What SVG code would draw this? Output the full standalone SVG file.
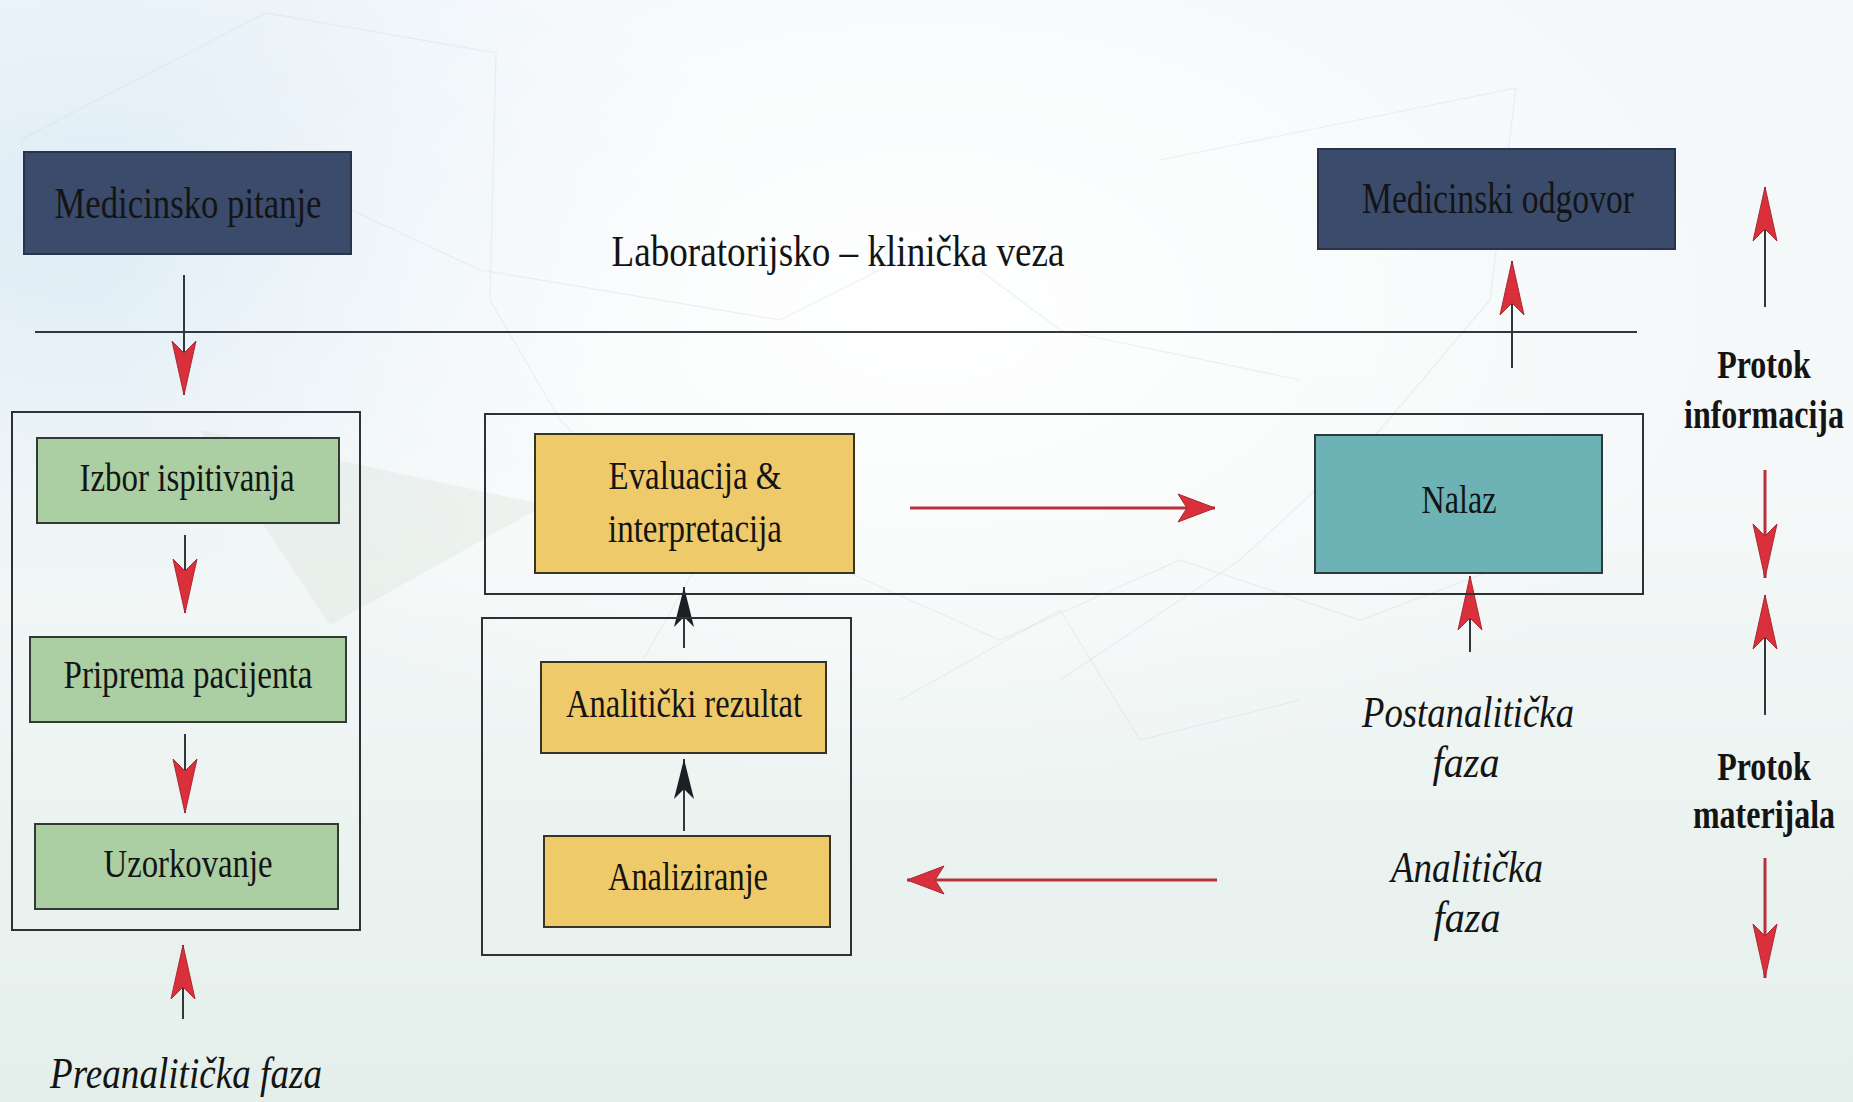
<svg xmlns="http://www.w3.org/2000/svg" width="1853" height="1102" viewBox="0 0 1853 1102">
  <defs>
    <linearGradient id="bg" x1="0" y1="0" x2="0" y2="1">
      <stop offset="0" stop-color="#f4f8fb"/>
      <stop offset="0.45" stop-color="#f4f8f8"/>
      <stop offset="1" stop-color="#e4efeb"/>
    </linearGradient>
    <radialGradient id="glow" cx="0.5" cy="0.28" r="0.45">
      <stop offset="0" stop-color="#ffffff" stop-opacity="1"/>
      <stop offset="1" stop-color="#ffffff" stop-opacity="0"/>
    </radialGradient>
    <radialGradient id="blue" cx="0.05" cy="0.2" r="0.35">
      <stop offset="0" stop-color="#dcebf6" stop-opacity="0.9"/>
      <stop offset="1" stop-color="#dcebf6" stop-opacity="0"/>
    </radialGradient>
    <marker id="redV" markerUnits="userSpaceOnUse" orient="auto" refX="0" refY="0" markerWidth="60" markerHeight="30" overflow="visible">
      <path d="M0,0 L-54,-12 L-42,0 L-54,12 Z" fill="#d9303b" stroke="#a82a33" stroke-width="1"/>
    </marker>
    <marker id="blkV" markerUnits="userSpaceOnUse" orient="auto" refX="0" refY="0" markerWidth="60" markerHeight="30" overflow="visible">
      <path d="M0,0 L-40,-10 L-30,0 L-40,10 Z" fill="#1c1f26"/>
    </marker>
    <marker id="redH" markerUnits="userSpaceOnUse" orient="auto" refX="0" refY="0" markerWidth="60" markerHeight="30" overflow="visible">
      <path d="M0,0 L-37,-14 L-28,0 L-37,14 Z" fill="#d9303b" stroke="#a82a33" stroke-width="1"/>
    </marker>
  </defs>
  <style>
    .t { font-family: "Liberation Serif", "Times New Roman", serif; fill: #141414; text-anchor: middle; }
    .n { font-size: 41px; }
    .big { font-size: 44px; }
    .it { font-style: italic; font-size: 45px; }
    .b { font-weight: bold; font-size: 40px; }
    .navy { fill: #3b4b6c; stroke: #2a3348; stroke-width: 2; }
    .green { fill: #abcfa3; stroke: #333a33; stroke-width: 2; }
    .yellow { fill: #efca6a; stroke: #3a3428; stroke-width: 2; }
    .teal { fill: #6db3b6; stroke: #2e3a3c; stroke-width: 2; }
    .frame { fill: none; stroke: #2e3236; stroke-width: 2; }
    .sh { stroke: #33363a; stroke-width: 2; fill: none; }
    .shr { stroke: #b8303c; stroke-width: 3; fill: none; }
    .bgl { stroke: #cdd8dc; stroke-width: 1.2; fill: none; opacity: 0.35; }
  </style>

  <g id="background">
    <rect x="0" y="0" width="1853" height="1102" fill="url(#bg)"/>
    <rect x="0" y="0" width="1853" height="1102" fill="url(#blue)"/>
    <rect x="0" y="0" width="1853" height="1102" fill="url(#glow)"/>
    <polygon points="200,430 545,505 330,625" fill="#c9d8c6" opacity="0.22"/>
    <polyline class="bgl" points="20,140 266,13 496,53 490,300 560,420 700,560 620,700"/>
    <polyline class="bgl" points="1160,160 1516,88 1490,300 1380,430 1240,560 1060,680"/>
    <polyline class="bgl" points="330,200 480,270 780,320 940,240 1060,330 1300,380"/>
    <polyline class="bgl" points="600,460 820,560 1000,640 1180,560 1360,620 1520,560"/>
    <polyline class="bgl" points="900,700 1060,610 1140,740 1300,700"/>
  </g>

  <g id="connectors">
    <line class="sh" x1="35" y1="332" x2="1637" y2="332" stroke-width="3"/>
    <line class="sh" x1="184" y1="275" x2="184" y2="395" marker-end="url(#redV)"/>
    <line class="sh" x1="185" y1="535" x2="185" y2="613" marker-end="url(#redV)"/>
    <line class="sh" x1="185" y1="734" x2="185" y2="813" marker-end="url(#redV)"/>
    <line class="sh" x1="183" y1="1019" x2="183" y2="945" marker-end="url(#redV)"/>
    <line class="shr" x1="910" y1="508" x2="1215" y2="508" marker-end="url(#redH)"/>
    <line class="shr" x1="1217" y1="880" x2="907" y2="880" marker-end="url(#redH)"/>
    <line class="sh" x1="684" y1="831" x2="684" y2="759" marker-end="url(#blkV)"/>
    <line class="sh" x1="684" y1="648" x2="684" y2="587" marker-end="url(#blkV)"/>
    <line class="sh" x1="1512" y1="368" x2="1512" y2="261" marker-end="url(#redV)"/>
    <line class="sh" x1="1470" y1="652" x2="1470" y2="576" marker-end="url(#redV)"/>
    <line class="sh" x1="1765" y1="307" x2="1765" y2="187" marker-end="url(#redV)"/>
    <line class="shr" x1="1765" y1="470" x2="1765" y2="578" stroke-width="2" marker-end="url(#redV)"/>
    <line class="sh" x1="1765" y1="715" x2="1765" y2="595" marker-end="url(#redV)"/>
    <line class="shr" x1="1765" y1="858" x2="1765" y2="978" stroke-width="2" marker-end="url(#redV)"/>
  </g>

  <g id="frame-preanalytic"><rect class="frame" x="12" y="412" width="348" height="518"/></g>
  <g id="frame-post"><rect class="frame" x="485" y="414" width="1158" height="180"/></g>
  <g id="frame-analytic"><rect class="frame" x="482" y="618" width="369" height="337"/></g>

  <g id="medicinsko-pitanje">
    <rect class="navy" x="24" y="152" width="327" height="102"/>
    <text class="t big" x="188" y="218" textLength="267" lengthAdjust="spacingAndGlyphs">Medicinsko pitanje</text>
  </g>
  <g id="lab-klin-veza">
    <text class="t big" x="838" y="266" textLength="453" lengthAdjust="spacingAndGlyphs">Laboratorijsko – klinička veza</text>
  </g>
  <g id="medicinski-odgovor">
    <rect class="navy" x="1318" y="149" width="357" height="100"/>
    <text class="t big" x="1498" y="213" textLength="272" lengthAdjust="spacingAndGlyphs">Medicinski odgovor</text>
  </g>
  <g id="izbor">
    <rect class="green" x="37" y="438" width="302" height="85"/>
    <text class="t n" x="187" y="491" textLength="215" lengthAdjust="spacingAndGlyphs">Izbor ispitivanja</text>
  </g>
  <g id="priprema">
    <rect class="green" x="30" y="637" width="316" height="85"/>
    <text class="t n" x="188" y="688" textLength="249" lengthAdjust="spacingAndGlyphs">Priprema pacijenta</text>
  </g>
  <g id="uzorkovanje">
    <rect class="green" x="35" y="824" width="303" height="85"/>
    <text class="t n" x="188" y="877" textLength="169" lengthAdjust="spacingAndGlyphs">Uzorkovanje</text>
  </g>
  <g id="preanaliticka">
    <text class="t it" x="186" y="1088" textLength="272" lengthAdjust="spacingAndGlyphs">Preanalitička faza</text>
  </g>
  <g id="evaluacija">
    <rect class="yellow" x="535" y="434" width="319" height="139"/>
    <text class="t n" x="695" y="489" textLength="173" lengthAdjust="spacingAndGlyphs">Evaluacija &amp;</text>
    <text class="t n" x="695" y="542" textLength="174" lengthAdjust="spacingAndGlyphs">interpretacija</text>
  </g>
  <g id="nalaz">
    <rect class="teal" x="1315" y="435" width="287" height="138"/>
    <text class="t n" x="1459" y="513" textLength="75" lengthAdjust="spacingAndGlyphs">Nalaz</text>
  </g>
  <g id="analiticki-rezultat">
    <rect class="yellow" x="541" y="662" width="285" height="91"/>
    <text class="t n" x="684" y="717" textLength="236" lengthAdjust="spacingAndGlyphs">Analitički rezultat</text>
  </g>
  <g id="analiziranje">
    <rect class="yellow" x="544" y="836" width="286" height="91"/>
    <text class="t n" x="688" y="890" textLength="160" lengthAdjust="spacingAndGlyphs">Analiziranje</text>
  </g>
  <g id="postanaliticka">
    <text class="t it" x="1468" y="727" textLength="212" lengthAdjust="spacingAndGlyphs">Postanalitička</text>
    <text class="t it" x="1466" y="777" textLength="67" lengthAdjust="spacingAndGlyphs">faza</text>
  </g>
  <g id="analiticka">
    <text class="t it" x="1467" y="882" textLength="152" lengthAdjust="spacingAndGlyphs">Analitička</text>
    <text class="t it" x="1467" y="932" textLength="67" lengthAdjust="spacingAndGlyphs">faza</text>
  </g>
  <g id="protok-informacija" transform="matrix(0.8,0,0,1,1764,0)">
    <text class="t b" x="0" y="378">Protok</text>
    <text class="t b" x="0" y="428">informacija</text>
  </g>
  <g id="protok-materijala" transform="matrix(0.8,0,0,1,1764,0)">
    <text class="t b" x="0" y="780">Protok</text>
    <text class="t b" x="0" y="828">materijala</text>
  </g>
</svg>
